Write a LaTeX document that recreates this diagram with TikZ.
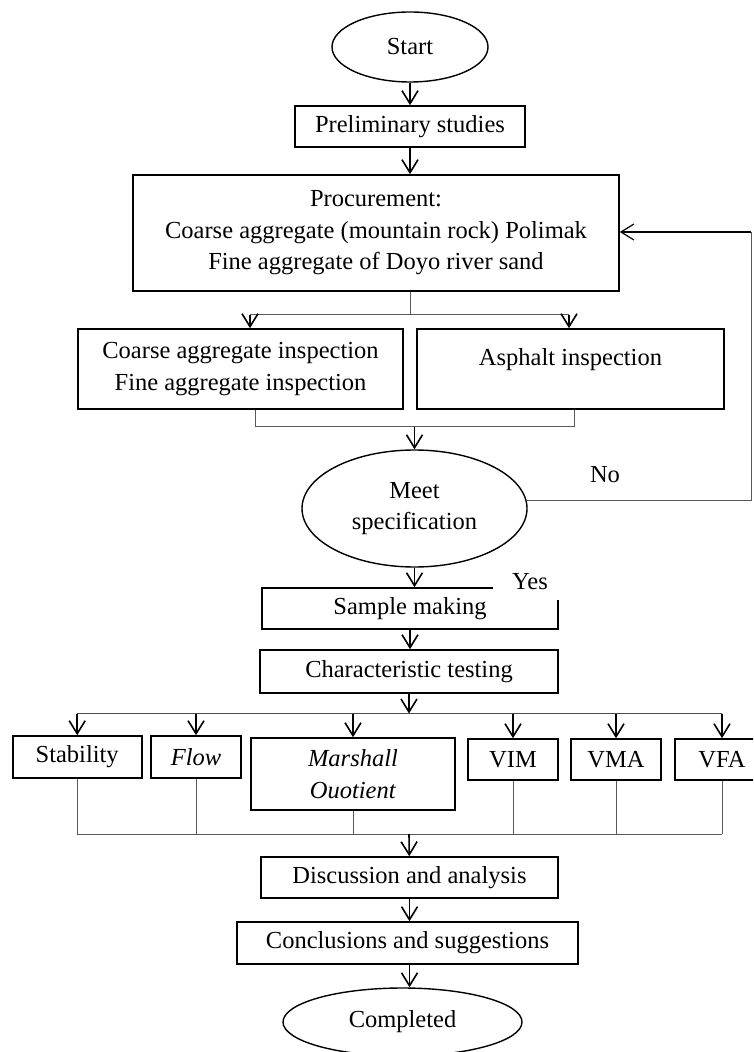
\documentclass[tikz,border=0pt]{standalone}
\usepackage{fontspec}
\setmainfont{Liberation Serif}
\usetikzlibrary{shapes.geometric,arrows.meta}
\newcommand{\chartfont}{\fontsize{12.25}{15.75}\selectfont}

\begin{document}
\begin{tikzpicture}[x=0.5pt,y=-0.5pt,>={Straight Barb[length=6.5pt,width=8pt]},
    box/.style={draw,line width=0.8pt,inner sep=0pt,align=center,font=\chartfont},
    oval/.style={draw,ellipse,line width=0.7pt,inner sep=0pt,align=center,font=\chartfont},
    note/.style={inner sep=0pt,font=\chartfont},
    arr/.style={->,line width=0.8pt},
    link/.style={line width=0.5pt,black!65},
    bus/.style={line width=0.9pt,black!70}]
  \useasboundingbox (0,0) rectangle (753,1052);
  \clip (0,0) rectangle (753,1052);

  % main column
  \node[oval,minimum width=78pt,minimum height=35pt] (start) at (410,47) {Start};
  \node[box,minimum width=115pt,minimum height=20.5pt] (prelim) at (410,126.5) {Preliminary studies};
  \node[box,minimum width=243pt,minimum height=58pt] (proc) at (376,233)
    {Procurement:\\Coarse aggregate (mountain rock) Polimak\\Fine aggregate of Doyo river sand};
  \node[box,minimum width=162.5pt,minimum height=40pt] (insA) at (240.5,369)
    {Coarse aggregate inspection\\Fine aggregate inspection};
  \node[box,minimum width=153.5pt,minimum height=40pt] (insB) at (570.5,369) {Asphalt inspection\\[-4pt]\mbox{}};
  \node[oval,minimum width=112.5pt,minimum height=58.5pt] (meet) at (414.5,508.5) {Meet\\specification};
  \node[note] (no) at (605,475) {No};
  \node[box,minimum width=148pt,minimum height=20.5pt] (sample) at (410,608.5) {Sample making};
  \node[note,fill=white,minimum width=37pt,minimum height=18pt] (yes) at (530,582) {Yes};
  \node[box,minimum width=149pt,minimum height=21.5pt] (test) at (409,671.5) {Characteristic testing};

  % tests
  \node[box,minimum width=64.5pt,minimum height=21pt] (stab) at (77.2,757) {Stability};
  \node[box,minimum width=45pt,minimum height=21pt] (flow) at (196,757) {\textit{Flow}};
  \node[box,minimum width=102pt,minimum height=36pt] (marsh) at (353,774) {\textit{Marshall}\\\textit{Ouotient}};
  \node[box,minimum width=45pt,minimum height=20.5pt] (vim) at (513,759.5) {VIM};
  \node[box,minimum width=45pt,minimum height=20.5pt] (vma) at (616,759.5) {VMA};
  \node[box,minimum width=47pt,minimum height=20.5pt] (vfa) at (722,759.5) {VFA};

  \node[box,minimum width=148.5pt,minimum height=20.5pt] (disc) at (409.5,877.5) {Discussion and analysis};
  \node[box,minimum width=170.5pt,minimum height=21pt] (concl) at (407.5,943) {Conclusions and suggestions};
  \node[oval,minimum width=119.5pt,minimum height=34pt] (done) at (402.5,1022) {Completed};

  % connectors
  \draw[arr] (start) -- (prelim);
  \draw[arr] (prelim) -- (prelim |- proc.north);
  \coordinate (split) at (410,315);
  \coordinate (sa) at (250,315);
  \coordinate (sb) at (569,315);
  \draw[link] (prelim |- proc.south) -- (split);
  \draw[link] (sa) -- (sb);
  \draw[arr] (sa) -- (sa |- insA.north);
  \draw[arr] (sb) -- (sb |- insB.north);
  \coordinate (ma) at (255,427);
  \coordinate (mb) at (574,427);
  \draw[link] (ma |- insA.south) -- (ma) -- (mb) -- (mb |- insB.south);
  \draw[arr] (meet.north |- ma) -- (meet.north);
  % back to procurement
  \coordinate (back) at (751,232);
  \draw[link] (meet.4) -| (back);
  \draw[arr,line width=0.6pt] (back) -- (proc.east |- back);
  \draw[arr] (meet.south) -- (meet.south |- sample.north);
  \draw[arr] (sample.south) -- (sample.south |- test.north);
  % fan out to the tests
  \coordinate (fan) at (409,713.5);
  \draw[arr] (test) -- (fan);
  \draw[bus] (stab.north |- fan) -- (vfa.north |- fan);
  \foreach \t in {stab,flow,marsh,vim,vma,vfa}
    \draw[arr] (\t.north |- fan) -- (\t.north);
  \coordinate (join) at (409,834);
  \foreach \t in {stab,flow,marsh,vim,vma,vfa}
    \draw[link] (\t.south) -- (\t.south |- join);
  \draw[link] (stab.south |- join) -- (vfa.south |- join);
  \draw[arr] (join) -- (disc);
  \draw[arr] (disc) -- (disc |- concl.north);
  \draw[arr] (concl.south -| disc) -- (done.north -| disc);
\end{tikzpicture}
\end{document}
